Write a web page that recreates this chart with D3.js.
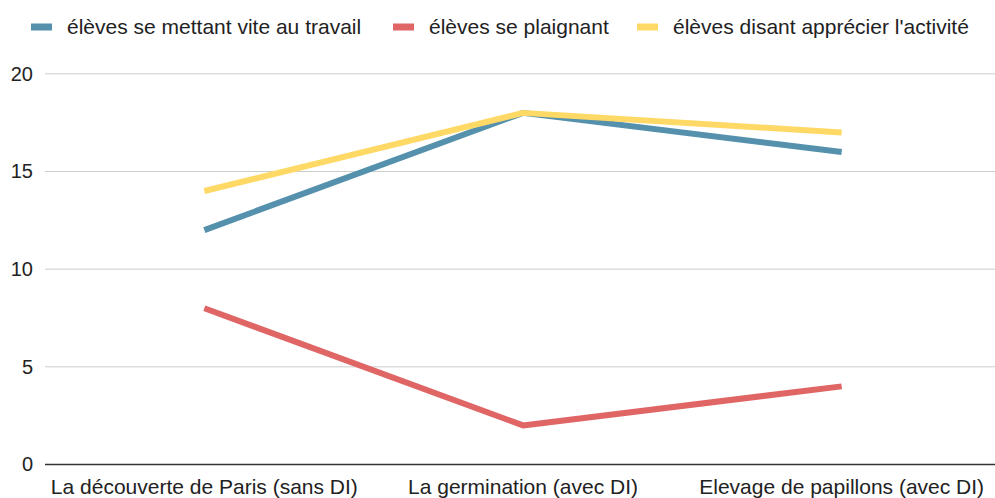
<!DOCTYPE html>
<html><head><meta charset="utf-8">
<script src="https://cdn.jsdelivr.net/npm/d3@7"></script>
<style>body{margin:0;background:#fff}svg{display:block;font-family:"Liberation Sans",Arial,sans-serif}</style>
</head><body><svg id="c" width="995" height="498"></svg>
<script>
const categories = ["La découverte de Paris (sans DI)", "La germination (avec DI)", "Elevage de papillons (avec DI)"];
const seriesNames = ["élèves se mettant vite au travail", "élèves se plaignant", "élèves disant apprécier l'activité"];
const travail = [12, 18, 16];
const plaignant = [8, 2, 4];
const apprecier = [14, 18, 17];
const yTicks = [0, 5, 10, 15, 20];
const colors = ["#5591ad", "#e06666", "#ffd966"];

const svg = d3.select("#c");
const x = d3.scaleBand().domain(categories).range([45, 1001]);
const y = d3.scaleLinear().domain([0, 20]).range([464.5, 73.8]);

// grid
svg.append("g").selectAll("line").data(yTicks.filter(d => d > 0)).join("line")
  .attr("x1", 45).attr("x2", 995).attr("y1", d => y(d)).attr("y2", d => y(d))
  .attr("stroke", "#cccccc").attr("stroke-width", 1);

const yAxis = svg.append("g").attr("transform", "translate(45,0)")
  .call(d3.axisLeft(y).tickValues(yTicks).tickSize(0).tickPadding(12));
yAxis.select(".domain").remove();
yAxis.selectAll("text").attr("font-size", 20).attr("fill", "#222").attr("font-family", "Liberation Sans, Arial, sans-serif");

const series = [travail, plaignant, apprecier];
const line = d3.line().x((d, i) => x(categories[i]) + x.bandwidth() / 2).y(d => y(d));
svg.append("g").selectAll("path").data(series).join("path")
  .attr("d", d => line(d)).attr("fill", "none")
  .attr("stroke", (d, i) => colors[i]).attr("stroke-width", 6)
  .attr("stroke-linejoin", "round").attr("stroke-linecap", "butt");

// baseline
svg.append("line").attr("x1", 45).attr("x2", 995).attr("y1", y(0)).attr("y2", y(0))
  .attr("stroke", "#333").attr("stroke-width", 1.3);

const xAxis = svg.append("g").attr("transform", `translate(0,${y(0)})`)
  .call(d3.axisBottom(x).tickSize(0).tickPadding(0));
xAxis.select(".domain").remove();
xAxis.selectAll("text").attr("font-size", 21).attr("fill", "#222").attr("dy", null).attr("y", 29.5)
  .attr("font-family", "Liberation Sans, Arial, sans-serif");

// legend
const legendX = [31, 393, 637];
const lg = svg.append("g").selectAll("g").data(seriesNames).join("g")
  .attr("transform", (d, i) => `translate(${legendX[i]},27)`);
lg.append("rect").attr("x", 0).attr("y", -3.5).attr("width", 21).attr("height", 7).attr("fill", (d, i) => colors[i]);
lg.append("text").attr("x", 36).attr("y", 7).attr("font-size", 21).attr("fill", "#222").text(d => d);
</script></body></html>
